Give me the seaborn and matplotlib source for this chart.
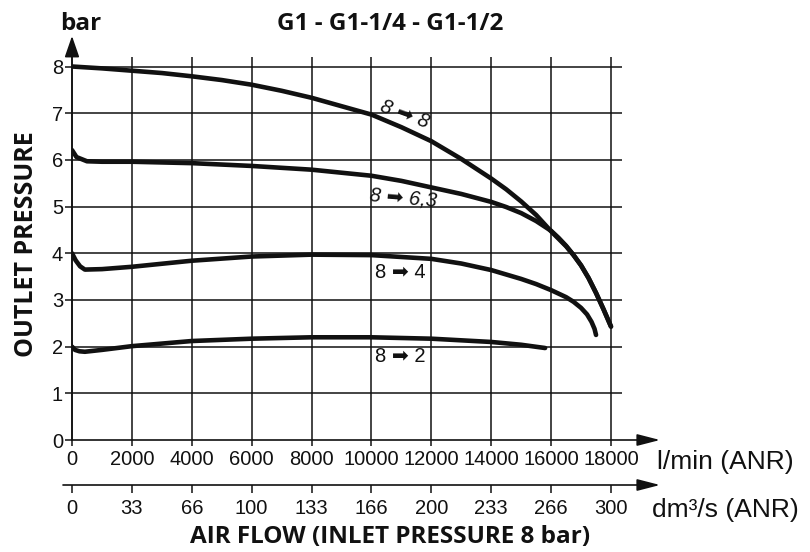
import numpy as np
import pandas as pd
import matplotlib
matplotlib.use("Agg")
import matplotlib.pyplot as plt
import seaborn as sns

# ---------------------------------------------------------------------------
# Values (l/min ANR -> outlet bar)
# ---------------------------------------------------------------------------
flow_8 = [0, 1000, 2000, 3000, 4000, 5000, 6000, 7000, 8000, 9000, 10000,
          11000, 12000, 13000, 14000, 14500, 15000, 15500, 16000, 16250,
          16500, 16750, 17000, 17250, 17500, 17750, 18000]
pres_8 = [8.0, 7.96, 7.91, 7.86, 7.79, 7.71, 7.61, 7.48, 7.33, 7.15, 6.97,
          6.7, 6.4, 6.02, 5.6, 5.37, 5.11, 4.82, 4.47, 4.31, 4.15, 3.96,
          3.74, 3.47, 3.15, 2.8, 2.43]

flow_63 = [0, 150, 500, 1000, 2000, 4000, 6000, 8000, 10000, 11000, 12000,
           13000, 14000, 14500, 15000, 15500, 16000, 16250, 16500, 16750,
           17000, 17250, 17500, 17750, 18000]
pres_63 = [6.21, 6.06, 5.97, 5.96, 5.96, 5.93, 5.87, 5.79, 5.66, 5.55, 5.41,
           5.27, 5.1, 4.99, 4.86, 4.69, 4.48, 4.33, 4.16, 3.96, 3.74, 3.47,
           3.15, 2.8, 2.43]

flow_4 = [0, 120, 270, 430, 1000, 2000, 4000, 6000, 8000, 10000, 12000,
          13000, 14000, 15000, 15500, 16000, 16500, 16750, 17000, 17200,
          17350, 17450, 17500]
pres_4 = [4.0, 3.85, 3.72, 3.65, 3.66, 3.71, 3.84, 3.93, 3.97, 3.96, 3.88,
          3.78, 3.64, 3.45, 3.34, 3.21, 3.06, 2.96, 2.83, 2.69, 2.53, 2.38,
          2.25]

flow_2 = [0, 100, 250, 430, 1000, 2000, 4000, 6000, 8000, 10000, 12000,
          14000, 15000, 15800]
pres_2 = [2.0, 1.93, 1.9, 1.89, 1.93, 2.01, 2.12, 2.17, 2.2, 2.2, 2.17,
          2.1, 2.04, 1.97]

curve_labels = ["8 \u27a1 8", "8 \u27a1 6,3", "8 \u27a1 4", "8 \u27a1 2"]
label_x = [11100, 11050, 10950, 10950]
label_y = [6.98, 5.18, 3.58, 1.78]
label_rot = [-20, -5, 0, 0]

lmin_ticks = [0, 2000, 4000, 6000, 8000, 10000, 12000, 14000, 16000, 18000]
dm3_labels = ["0", "33", "66", "100", "133", "166", "200", "233", "266", "300"]
bar_ticks = [0, 1, 2, 3, 4, 5, 6, 7, 8]

curves = pd.concat([
    pd.DataFrame({"flow": flow_8, "pressure": pres_8, "curve": "8-8"}),
    pd.DataFrame({"flow": flow_63, "pressure": pres_63, "curve": "8-6.3"}),
    pd.DataFrame({"flow": flow_4, "pressure": pres_4, "curve": "8-4"}),
    pd.DataFrame({"flow": flow_2, "pressure": pres_2, "curve": "8-2"}),
], ignore_index=True)

# ---------------------------------------------------------------------------
sns.set_style("white")
plt.rcParams["font.family"] = ["Liberation Sans", "DejaVu Sans"]
ink = "#111111"
bold_font = ["Open Sans", "DejaVu Sans"]

W, H = 810, 552
fig = plt.figure(figsize=(W / 100, H / 100), dpi=100)
x0_px, x_end_px, xaxis_px, top_px = 72, 660, 440, 36
ax = fig.add_axes([x0_px / W, (H - xaxis_px) / H,
                   (x_end_px - x0_px) / W, (xaxis_px - top_px) / H])
px_per_flow = (611 - 72) / 18000
xmax = (x_end_px - x0_px) / px_per_flow
px_per_bar = (440 - 66.5) / 8
ymax = 8 + (66.5 - top_px) / px_per_bar
ax.set_xlim(0, xmax)
ax.set_ylim(0, ymax)
for s in ax.spines.values():
    s.set_visible(False)

# grid
ax.hlines(bar_ticks[1:], 0, 18370, color=ink, lw=1.1, zorder=1)
ax.vlines(lmin_ticks, -0.13, 8.2, color=ink, lw=1.1, zorder=1, clip_on=False)

# axis arrows
ax.annotate("", xy=(xmax, 0), xytext=(0, 0), annotation_clip=False,
            arrowprops=dict(arrowstyle="-|>,head_length=1.4,head_width=0.36",
                            lw=1.2, color=ink, shrinkA=0, shrinkB=0))
ax.annotate("", xy=(0, ymax), xytext=(0, 0), annotation_clip=False,
            arrowprops=dict(arrowstyle="-|>,head_length=1.3,head_width=0.45",
                            lw=1.2, color=ink, shrinkA=0, shrinkB=0))

# curves
sns.lineplot(data=curves, x="flow", y="pressure", units="curve",
             estimator=None, sort=False, color=ink, lw=3.3, ax=ax, zorder=3)
ax.set_xlabel("")
ax.set_ylabel("")

for txt, lx, ly, rot in zip(curve_labels, label_x, label_y, label_rot):
    ax.text(lx, ly, txt, ha="center", va="center", rotation=rot,
            fontsize=14.5, color=ink, style="italic" if rot else "normal",
            family=["Liberation Sans", "DejaVu Sans"], zorder=4)

# ticks
ax.set_xticks(lmin_ticks)
ax.set_xticklabels([str(t) for t in lmin_ticks])
ax.set_yticks(bar_ticks)
ax.set_yticklabels([str(t) for t in bar_ticks])
ax.tick_params(axis="x", length=0, pad=7.5, labelsize=14.5, colors=ink)
ax.tick_params(axis="y", left=True, length=5, width=1.1, pad=1.5,
               labelsize=14.5, colors=ink, direction="out")

# secondary dm3/s axis
sec_loc = -(485 - xaxis_px) / (xaxis_px - top_px)
sec = ax.secondary_xaxis(sec_loc)
sec.set_xticks(lmin_ticks)
sec.set_xticklabels(dm3_labels)
sec.tick_params(axis="x", length=6, width=1.1, pad=4, labelsize=14.5,
                colors=ink, direction="out")
sec.spines["bottom"].set_visible(False)
ax.annotate("", xy=(1.0, sec_loc), xytext=(-9 / (x_end_px - x0_px), sec_loc),
            xycoords="axes fraction", annotation_clip=False,
            arrowprops=dict(arrowstyle="-|>,head_length=1.4,head_width=0.36",
                            lw=1.2, color=ink, shrinkA=0, shrinkB=0))

# units and titles
fig.text(657 / W, 1 - 462 / H, "l/min (ANR)", ha="left", va="center",
         fontsize=19, color=ink)
fig.text(652 / W, 1 - 510 / H, "dm\u00b3/s (ANR)", ha="left", va="center",
         fontsize=19, color=ink)
fig.text(390 / W, 1 - 24 / H, "G1 - G1-1/4 - G1-1/2", ha="center",
         va="center", fontsize=17.5, fontweight="bold", family=bold_font,
         color=ink)
fig.text(60 / W, 1 - 24 / H, "bar", ha="left", va="center", fontsize=17.5,
         fontweight="bold", family=bold_font, color=ink)
fig.text(27 / W, 1 - 244 / H, "OUTLET PRESSURE", ha="center", va="center",
         rotation=90, fontsize=18, fontweight="bold", family=bold_font,
         color=ink)
fig.text(390 / W, 1 - 537 / H, "AIR FLOW (INLET PRESSURE 8 bar)",
         ha="center", va="center", fontsize=17.5, fontweight="bold",
         family=bold_font, color=ink)

fig.savefig("out.png", dpi=100)
